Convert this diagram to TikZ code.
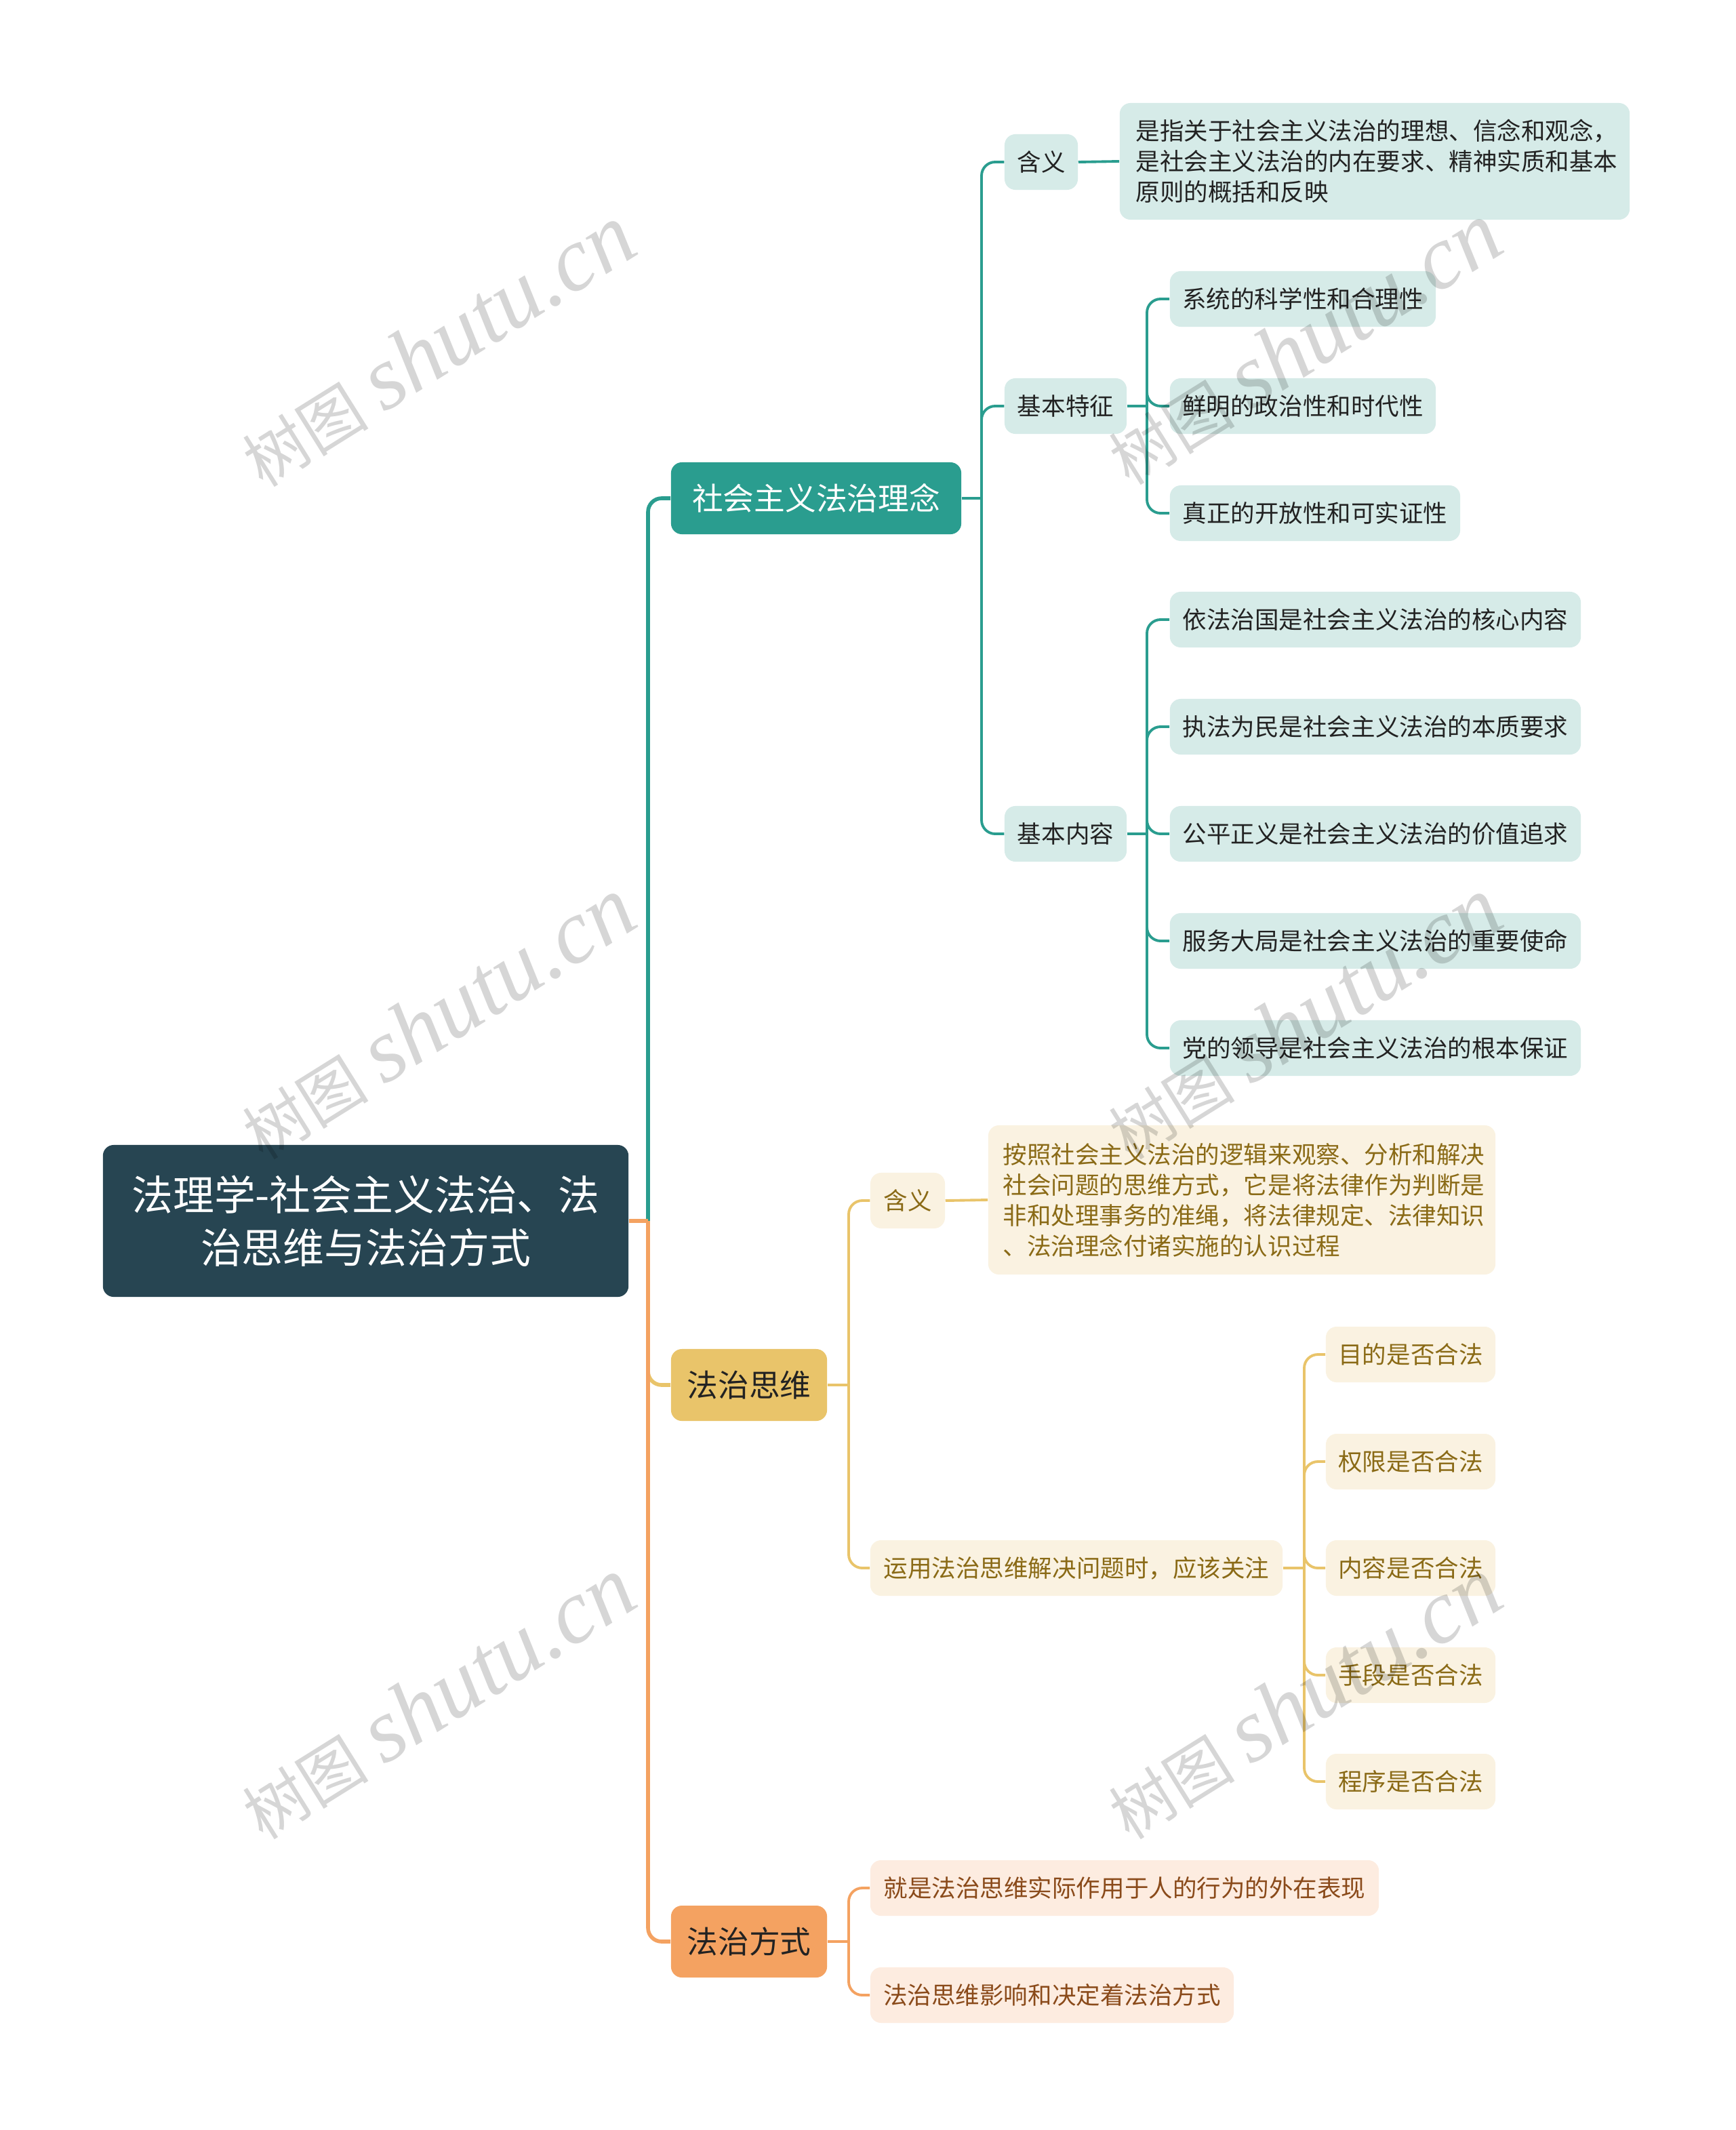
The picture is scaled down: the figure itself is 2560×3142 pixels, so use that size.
\documentclass[tikz,border=0pt]{standalone}
\usepackage{fontspec}
\setmainfont{Noto Sans CJK SC}
\newfontfamily\wmlatin{Liberation Serif}
\definecolor{rootc}{HTML}{274552}
\definecolor{tealc}{HTML}{2A9D8F}
\definecolor{tealL}{HTML}{D6EBE8}
\definecolor{yelc}{HTML}{E9C46A}
\definecolor{yelL}{HTML}{FAF2E1}
\definecolor{yelT}{HTML}{8A6A16}
\definecolor{orc}{HTML}{F4A261}
\definecolor{orL}{HTML}{FDECE0}
\definecolor{orT}{HTML}{8A4A1A}
\definecolor{darkT}{HTML}{222222}
\definecolor{wmc}{HTML}{D6D6D6}
\begin{document}
\begin{tikzpicture}[x=0.01cm,y=-0.01cm,
  box/.style={inner sep=0pt, rounded corners=0.16cm, align=center},
  rootbox/.style={box, fill=rootc, text=white, font=\fontsize{17.3}{22.2}\selectfont},
  lone/.style={box, font=\fontsize{13}{16}\selectfont, minimum height=1.06cm},
  leafT/.style={box, fill=tealL, text=darkT, font=\fontsize{10.1}{12.8}\selectfont, minimum height=0.82cm},
  leafY/.style={box, fill=yelL, text=yelT, font=\fontsize{10.1}{12.8}\selectfont, minimum height=0.82cm},
  leafO/.style={box, fill=orL, text=orT, font=\fontsize{10.1}{12.8}\selectfont, minimum height=0.82cm},
  mainconn/.style={line width=1.6pt, rounded corners=0.2cm},
  subconn/.style={line width=1.1pt, rounded corners=0.2cm},
  wm/.style={text=wmc, rotate=32, inner sep=0pt}
]
\useasboundingbox (0,0) rectangle (2560,3142);
\fill[white] (0,0) rectangle (2560,3142);

% ---------- nodes ----------
\node[rootbox, minimum width=7.75cm, minimum height=2.24cm] (root) at (539.5,1801) {法理学-社会主义法治、法\\治思维与法治方式};

\node[lone, fill=tealc, text=white, minimum width=4.28cm] (T1) at (1204,735) {社会主义法治理念};
\node[lone, fill=yelc, text=darkT, minimum width=2.30cm] (Y1) at (1105,2043) {法治思维};
\node[lone, fill=orc, text=darkT, minimum width=2.30cm] (O1) at (1105,2864) {法治方式};

% teal branch
\node[leafT, minimum width=1.08cm] (T2a) at (1536,239) {含义};
\node[leafT, minimum width=1.80cm] (T2b) at (1572,599) {基本特征};
\node[leafT, minimum width=1.80cm] (T2c) at (1572,1230) {基本内容};
\node[leafT, minimum width=7.52cm, minimum height=1.72cm, text width=7.04cm, align=left] (T3) at (2028,238) {是指关于社会主义法治的理想、信念和观念，\\是社会主义法治的内在要求、精神实质和基本\\原则的概括和反映};
\node[leafT, minimum width=3.92cm] (F1) at (1922,441) {系统的科学性和合理性};
\node[leafT, minimum width=3.92cm] (F2) at (1922,599) {鲜明的政治性和时代性};
\node[leafT, minimum width=4.28cm] (F3) at (1940,757) {真正的开放性和可实证性};
\node[leafT, minimum width=6.06cm] (C1) at (2029,914) {依法治国是社会主义法治的核心内容};
\node[leafT, minimum width=6.06cm] (C2) at (2029,1072) {执法为民是社会主义法治的本质要求};
\node[leafT, minimum width=6.06cm] (C3) at (2029,1230) {公平正义是社会主义法治的价值追求};
\node[leafT, minimum width=6.06cm] (C4) at (2029,1388) {服务大局是社会主义法治的重要使命};
\node[leafT, minimum width=6.06cm] (C5) at (2029,1546) {党的领导是社会主义法治的根本保证};

% yellow branch
\node[leafY, minimum width=1.10cm] (Y2a) at (1339,1771) {含义};
\node[leafY, minimum width=7.48cm, minimum height=2.20cm, text width=7.04cm, align=left] (Y3) at (1832,1770) {按照社会主义法治的逻辑来观察、分析和解决\\社会问题的思维方式，它是将法律作为判断是\\非和处理事务的准绳，将法律规定、法律知识\\、法治理念付诸实施的认识过程};
\node[leafY, minimum width=6.08cm] (Y2b) at (1588,2313) {运用法治思维解决问题时，应该关注};
\node[leafY, minimum width=2.50cm] (L1) at (2081,1998) {目的是否合法};
\node[leafY, minimum width=2.50cm] (L2) at (2081,2156) {权限是否合法};
\node[leafY, minimum width=2.50cm] (L3) at (2081,2313) {内容是否合法};
\node[leafY, minimum width=2.50cm] (L4) at (2081,2471) {手段是否合法};
\node[leafY, minimum width=2.50cm] (L5) at (2081,2628) {程序是否合法};

% orange branch
\node[leafO, minimum width=7.50cm] (O2a) at (1659,2785) {就是法治思维实际作用于人的行为的外在表现};
\node[leafO, minimum width=5.36cm] (O2b) at (1552,2943) {法治思维影响和决定着法治方式};

% ---------- junctions ----------
\coordinate (jR) at (956,1801);
\coordinate (jT1) at (1448,735);
\coordinate (jT2b) at (1692,599);
\coordinate (jT2c) at (1692,1230);
\coordinate (jY1) at (1252,2043);
\coordinate (jY2b) at (1924,2313);
\coordinate (jO1) at (1252,2864);

% ---------- connectors ----------
\draw[mainconn, tealc] (jR) |- (T1.west);
\draw[mainconn, yelc] (jR) |- (Y1.west);
\draw[mainconn, orc] (jR) |- (O1.west);
\draw[mainconn, orc, rounded corners=0pt] (root.east) -- (jR);

\draw[subconn, tealc] (T1.east) -- (jT1);
\foreach \n in {T2a,T2b,T2c} \draw[subconn, tealc] (jT1) |- (\n.west);
\draw[subconn, tealc] (T2a.east) -- (T3.west);
\draw[subconn, tealc] (T2b.east) -- (jT2b);
\foreach \n in {F1,F2,F3} \draw[subconn, tealc] (jT2b) |- (\n.west);
\draw[subconn, tealc] (T2c.east) -- (jT2c);
\foreach \n in {C1,C2,C3,C4,C5} \draw[subconn, tealc] (jT2c) |- (\n.west);

\draw[subconn, yelc] (Y1.east) -- (jY1);
\foreach \n in {Y2a,Y2b} \draw[subconn, yelc] (jY1) |- (\n.west);
\draw[subconn, yelc] (Y2a.east) -- (Y3.west);
\draw[subconn, yelc] (Y2b.east) -- (jY2b);
\foreach \n in {L1,L2,L3,L4,L5} \draw[subconn, yelc] (jY2b) |- (\n.west);

\draw[subconn, orc] (O1.east) -- (jO1);
\foreach \n in {O2a,O2b} \draw[subconn, orc] (jO1) |- (\n.west);

% ---------- watermarks ----------
\begin{scope}[blend mode=multiply]
\foreach \wx/\wy [count=\i] in {645/510, 1923/507, 645/1502, 1923/1502, 645/2505, 1923/2505}
  \node[wm] (wm\i) at (\wx,\wy) {\fontsize{26.5}{28}\selectfont 树图\hspace{0.25em}{\wmlatin\itshape\fontsize{38}{40}\selectfont shutu.cn}};
\end{scope}
\end{tikzpicture}
\end{document}
